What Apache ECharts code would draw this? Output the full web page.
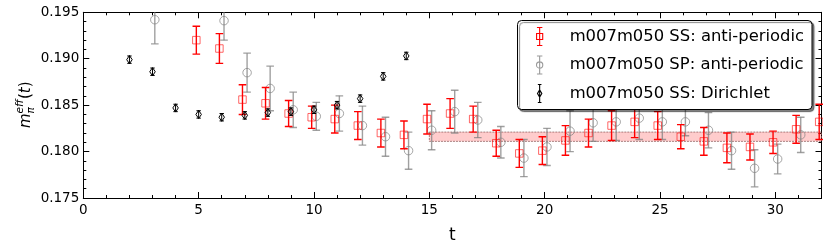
<!DOCTYPE html>
<html><head><meta charset="utf-8">
<script src="https://cdn.jsdelivr.net/npm/echarts@6/dist/echarts.min.js"></script>
<style>html,body{margin:0;padding:0;background:#fff}#c{width:830px;height:249px}</style>
</head><body><div id="c"></div>
<script>
// ---- data ----
const ssName = 'm007m050 SS: anti-periodic';
const ssT    = [5,6,7,8,9,10,11,12,13,14,15,16,17,18,19,20,21,22,23,24,25,26,27,28,29,30,31,32];
const ssMean = [0.1920,0.1911,0.1856,0.1852,0.1841,0.1837,0.1835,0.1828,0.1820,0.1818,0.1835,0.1841,0.1835,0.1809,0.1798,0.1801,0.1812,0.1820,0.1828,0.1832,0.1828,0.1816,0.1811,0.1804,0.1805,0.1810,0.1824,0.1832];
const ssErr  = [0.0015,0.0016,0.0016,0.0017,0.0014,0.0012,0.0015,0.0015,0.0015,0.0015,0.0016,0.0016,0.0014,0.0014,0.0015,0.0015,0.0016,0.0015,0.0016,0.0017,0.0015,0.0013,0.0015,0.0016,0.0014,0.0012,0.0015,0.0019];

const spName = 'm007m050 SP: anti-periodic';
const spT    = [3,6,7,8,9,10,11,12,13,14,15,16,17,18,19,20,21,22,23,24,25,26,27,28,29,30,31];
const spMean = [0.1942,0.1941,0.1885,0.1868,0.1845,0.1838,0.1841,0.1828,0.1816,0.1801,0.1823,0.1843,0.1834,0.1810,0.1793,0.1805,0.1822,0.1831,0.1832,0.1836,0.1832,0.1832,0.1823,0.1801,0.1782,0.1792,0.1818];
const spErr  = [0.0026,0.0021,0.0021,0.0024,0.0019,0.0015,0.0019,0.0021,0.0021,0.0020,0.0021,0.0023,0.0019,0.0017,0.0020,0.0020,0.0022,0.0020,0.0020,0.0023,0.0019,0.0015,0.0019,0.0020,0.0020,0.0016,0.0019];

const dirName = 'm007m050 SS: Dirichlet';
const dirT    = [2,3,4,5,6,7,8,9,10,11,12,13,14];
const dirMean = [0.1899,0.1886,0.1847,0.1840,0.1837,0.1839,0.1842,0.1843,0.1845,0.1850,0.1857,0.1881,0.1903];
const dirErr  = [0.0004,0.0004,0.0004,0.0004,0.0004,0.0004,0.0004,0.0004,0.0004,0.0004,0.0004,0.0004,0.0004];

const fitT    = [15, 32];
const fitBand = [0.1811, 0.1821];

const xTickLabels = ['0','5','10','15','20','25','30'];
const yTickLabels = ['0.175','0.180','0.185','0.190','0.195'];

// ---- chart ----
const FONT = 'DejaVu Sans';
const chart = echarts.init(document.getElementById('c'), null, {renderer: 'canvas'});

function errSeries(name, t, mean, err, off, opt) {
  return {
    type: 'custom', name: name, clip: true, z: opt.z,
    data: t.map((v, i) => [v + off, mean[i], err[i]]),
    encode: {x: 0, y: 1},
    renderItem: function (params, api) {
      const x = api.value(0), m = api.value(1), e = api.value(2);
      const c = api.coord([x, m]);
      const lo = api.coord([x, m - e]);
      const hi = api.coord([x, m + e]);
      const h = opt.cap;
      const ls = {stroke: opt.bar, lineWidth: opt.lw};
      const ch = [
        {type: 'line', shape: {x1: c[0], y1: lo[1], x2: c[0], y2: hi[1]}, style: ls},
        {type: 'line', shape: {x1: c[0] - h, y1: lo[1], x2: c[0] + h, y2: lo[1]}, style: ls},
        {type: 'line', shape: {x1: c[0] - h, y1: hi[1], x2: c[0] + h, y2: hi[1]}, style: ls}
      ];
      const ms = {fill: 'none', stroke: opt.mark, lineWidth: 1};
      const s = opt.size;
      if (opt.kind === 'square') {
        ch.push({type: 'rect', shape: {x: c[0] - s / 2, y: c[1] - s / 2, width: s, height: s}, style: ms});
      } else if (opt.kind === 'circle') {
        ch.push({type: 'circle', shape: {cx: c[0], cy: c[1], r: s / 2}, style: ms});
      } else {
        ch.push({type: 'polygon', shape: {points: [[c[0], c[1] - s * 0.75], [c[0] + s / 2, c[1]], [c[0], c[1] + s * 0.75], [c[0] - s / 2, c[1]]]}, style: ms});
      }
      return {type: 'group', children: ch};
    }
  };
}

const axisLineStyle = {color: '#000', width: 1};
function xAx(pos, interval, len, labels, line) {
  return {
    type: 'value', position: pos, min: 0, max: 32, interval: interval,
    axisLine: {show: line, onZero: false, lineStyle: axisLineStyle},
    axisTick: {show: true, inside: true, length: len, lineStyle: axisLineStyle},
    axisLabel: labels ? {show: true, margin: 5, fontFamily: FONT, fontSize: 13.5, color: '#000', showMaxLabel: false,
      formatter: v => xTickLabels.indexOf(String(v)) >= 0 ? String(v) : ''} : {show: false},
    splitLine: {show: false},
    name: labels ? 't' : '', nameLocation: 'middle', nameGap: 29,
    nameTextStyle: {fontFamily: FONT, fontSize: 17, color: '#000'}
  };
}
function yAx(pos, interval, len, labels, line) {
  return {
    type: 'value', position: pos, min: 0.175, max: 0.195, interval: interval,
    axisLine: {show: line, onZero: false, lineStyle: axisLineStyle},
    axisTick: {show: true, inside: true, length: len, lineStyle: axisLineStyle},
    axisLabel: labels ? {show: true, margin: 4, fontFamily: FONT, fontSize: 13.5, color: '#000',
      formatter: v => { const s = v.toFixed(3); return yTickLabels.indexOf(s) >= 0 ? s : ''; }} : {show: false},
    splitLine: {show: false}
  };
}

const red = '#ff0000', gray = 'rgba(128,128,128,0.75)', black = '#000';

const option = {
  animation: false,
  backgroundColor: '#fff',
  grid: {left: 83.3, right: 8.5, top: 12.3, bottom: 38},
  xAxis: [xAx('bottom', 5, 6, true, true), xAx('bottom', 1, 3, false, false), xAx('top', 5, 6, false, true), xAx('top', 1, 3, false, false)],
  yAxis: [yAx('left', 0.005, 6, true, true), yAx('left', 0.001, 3, false, false), yAx('right', 0.005, 6, false, true), yAx('right', 0.001, 3, false, false)],
  legend: {
    orient: 'vertical', left: 517.5, top: 20.5,
    padding: [4.5, 8, 4.5, 16.5], itemGap: 5.5, itemWidth: 14, itemHeight: 18,
    backgroundColor: '#fff', borderColor: '#000', borderWidth: 1, borderRadius: 4,
    shadowColor: 'rgba(0,0,0,0.5)', shadowBlur: 1, shadowOffsetX: 2, shadowOffsetY: 2,
    selectedMode: false,
    textStyle: {fontFamily: FONT, fontSize: 16.4, lineHeight: 18, color: '#000', padding: [0, 0, 0, 18]},
    data: [
      {name: ssName, icon: 'path://M5,0L5,20M2,0L8,0M2,20L8,20M1.6,6.6L8.4,6.6L8.4,13.4L1.6,13.4Z',
        itemStyle: {color: 'none', borderColor: red, borderWidth: 1.1}},
      {name: spName, icon: 'path://M5,0L5,20M2,0L8,0M2,20L8,20M8.5,10A3.5,3.5,0,1,1,1.5,10A3.5,3.5,0,1,1,8.5,10Z',
        itemStyle: {color: 'none', borderColor: 'rgba(128,128,128,0.8)', borderWidth: 1.1}},
      {name: dirName, icon: 'path://M5,0L5,20M3,0L7,0M3,20L7,20M5,6L7.4,10L5,14L2.6,10Z',
        itemStyle: {color: 'none', borderColor: black, borderWidth: 1.1}}
    ]
  },
  graphic: [{
    type: 'group', x: 26, y: 128, rotation: Math.PI / 2, silent: true,
    children: [
      {type: 'text', x: 0, y: 0, style: {text: 'm', font: 'italic 15px "DejaVu Sans"', fill: '#000', textAlign: 'left', textVerticalAlign: 'middle'}},
      {type: 'text', x: 14.6, y: -6, style: {text: 'eff', font: 'italic 10.5px "DejaVu Sans"', fill: '#000', textAlign: 'left', textVerticalAlign: 'middle'}},
      {type: 'text', x: 14.6, y: 5, style: {text: 'π', font: 'italic 10.5px "DejaVu Sans"', fill: '#000', textAlign: 'left', textVerticalAlign: 'middle'}},
      {type: 'text', x: 29, y: 0, style: {text: '(', font: '15px "DejaVu Sans"', fill: '#000', textAlign: 'left', textVerticalAlign: 'middle'}},
      {type: 'text', x: 34.8, y: 0, style: {text: 't', font: 'italic 15px "DejaVu Sans"', fill: '#000', textAlign: 'left', textVerticalAlign: 'middle'}},
      {type: 'text', x: 40.7, y: 0, style: {text: ')', font: '15px "DejaVu Sans"', fill: '#000', textAlign: 'left', textVerticalAlign: 'middle'}}
    ]
  }],
  series: [
    {
      type: 'custom', name: 'fit', clip: true, z: 1, silent: true,
      data: [[fitT[0], fitT[1], fitBand[0], fitBand[1]]],
      encode: {x: [0, 1], y: [2, 3]},
      renderItem: function (params, api) {
        const a = api.coord([api.value(0), api.value(3)]);
        const b = api.coord([api.value(1), api.value(2)]);
        return {type: 'rect', shape: {x: a[0], y: a[1], width: b[0] - a[0], height: b[1] - a[1]},
          style: {fill: 'rgba(255,0,0,0.2)', stroke: 'rgba(140,90,90,0.75)', lineWidth: 1, lineDash: [2, 1]}};
      }
    },
    errSeries(ssName, ssT, ssMean, ssErr, -0.1, {z: 3, kind: 'square', bar: red, mark: 'rgba(255,0,0,0.6)', lw: 1.4, cap: 3.8, size: 7.5}),
    errSeries(spName, spT, spMean, spErr, 0.1, {z: 2, kind: 'circle', bar: gray, mark: 'rgba(128,128,128,0.7)', lw: 1.4, cap: 3.8, size: 8.5}),
    errSeries(dirName, dirT, dirMean, dirErr, 0, {z: 4, kind: 'diamond', bar: black, mark: black, lw: 1, cap: 2.2, size: 5.5})
  ]
};
chart.setOption(option);
</script>
</body></html>
